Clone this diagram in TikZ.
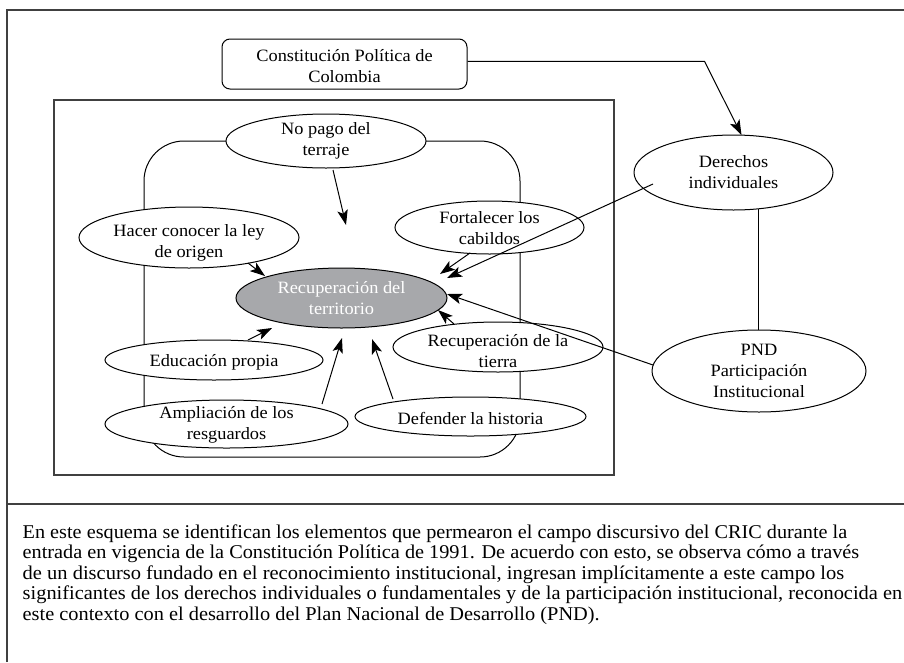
\documentclass[tikz,border=0pt]{standalone}
\usepackage{fontspec}
\setmainfont{Liberation Serif}[FakeStretch=1.06]
\usetikzlibrary{shapes.geometric,arrows.meta,calc}
\pgfdeclarelayer{bg}
\pgfsetlayers{bg,main}
\definecolor{recgray}{HTML}{A7A8AB}
\newcommand\capfont{\fontsize{19.5}{20}\selectfont}
\newcommand\captA{En este esquema se identifican los elementos que permearon el campo discursivo del CRIC durante la}
\newcommand\captB{entrada en vigencia de la Constitución Política de 1991. De acuerdo con esto, se observa cómo a través}
\newcommand\captC{de un discurso fundado en el reconocimiento institucional, ingresan implícitamente a este campo los}
\newcommand\captD{significantes de los derechos individuales o fundamentales y de la participación institucional, reconocida en}
\newcommand\captE{este contexto con el desarrollo del Plan Nacional de Desarrollo (PND).}
\newlength\lwa \newlength\lwb \newlength\lwc \newlength\lwd
\begin{document}
\settowidth\lwa{\capfont\captA}
\settowidth\lwb{\capfont\captB}
\settowidth\lwc{\capfont\captC}
\settowidth\lwd{\capfont\captD}
\pgfmathsetmacro\fa{824.5/\lwa}
\pgfmathsetmacro\fb{836.5/\lwb}
\pgfmathsetmacro\fc{821.5/\lwc}
\pgfmathsetmacro\fd{879.5/\lwd}
\pgfmathsetmacro\fe{(\fa+\fb+\fc+\fd)/4}
\begin{tikzpicture}[x=1pt,y=-1pt,
  ell/.style={ellipse,draw,fill=white,line width=1pt,inner sep=0pt},
  gell/.style={ellipse,draw,fill=recgray,line width=1pt,inner sep=0pt},
  lab/.style={align=center,font=\fontsize{17.3}{21}\selectfont,inner sep=0pt},
  arr/.style={line width=1pt,-{Stealth[length=15pt,width=10.5pt,inset=3.5pt]}},
  plain/.style={line width=1pt},
  frm/.style={draw=black!75,line width=1.3pt},
  captxt/.style={anchor=base west,inner sep=0pt}]
\useasboundingbox (0,0) rectangle (904,662);

% outer frame
\draw[frm] (7,662) -- (7,10) -- (904,10);
\draw[frm] (7,504) -- (904,504);
% inner rectangle
\draw[frm] (54,100) rectangle (614,475);

% nodes
\node[draw,rounded corners=8pt,line width=1pt,minimum width=245pt,minimum height=50pt,inner sep=0pt,
  label={[lab,yshift=-2pt]center:{Constitución Política de\\Colombia}}] (cons) at (344.5,64) {};
\node[ell,minimum width=200pt,minimum height=54pt,label={[lab]center:{No pago del\\terraje}}] (nopago) at (326,141) {};
\node[ell,minimum width=220pt,minimum height=61pt,label={[lab,yshift=-5pt]center:{Hacer conocer la ley\\de origen}}] (hacer) at (189,237.5) {};
\node[ell,minimum width=189pt,minimum height=53pt,label={[lab,yshift=-1pt]center:{Fortalecer los\\cabildos}}] (fort) at (489.5,227.5) {};
\node[gell,minimum width=211pt,minimum height=60pt,label={[lab,text=white]center:{Recuperación del\\territorio}}] (rec) at (341.5,298) {};
\node[ell,minimum width=218pt,minimum height=40pt,label={[lab,yshift=-2pt]center:{Educación propia}}] (edu) at (214,360) {};
\node[ell,minimum width=210pt,minimum height=50pt,label={[lab,yshift=-4.5pt]center:{Recuperación de la\\tierra}}] (tierra) at (498,347) {};
\node[ell,minimum width=243pt,minimum height=48pt,label={[lab,yshift=-1pt]center:{Ampliación de los\\resguardos}}] (ampl) at (226.5,424) {};
\node[ell,minimum width=231pt,minimum height=39pt,label={[lab,yshift=-1.5pt]center:{Defender la historia}}] (def) at (470.5,416.5) {};
\node[ell,minimum width=199pt,minimum height=75pt,label={[lab]center:{Derechos\\individuales}}] (der) at (733.5,172.5) {};
\node[ell,minimum width=214pt,minimum height=82pt,label={[lab]center:{PND\\Participación\\Institucional}}] (pnd) at (759,371) {};

% free arrow ends
\coordinate (c1) at (346,225);
\coordinate (c8) at (342,338);
\coordinate (c9) at (372,339);

% background lines
\begin{pgfonlayer}{bg}
\draw[plain,rounded corners=40pt] (144,141) rectangle (520,457);
\draw[plain] ($(pnd.center)+(-1,0)$) -- ($(der.center)+(24.5,0)$);
\end{pgfonlayer}

% connectors
\draw[arr] ($(cons.east)+(0,-2.7)$) -- ++(237,0) -- ($(der.center)+(8,-37.5)$);
\draw[arr] ($(nopago.center)+(7,29)$) -- (c1);
\draw[arr] ($(hacer.center)+(59,25.5)$) -- ($(rec.center)+(-76.5,-22)$);
\draw[arr] ($(fort.center)+(-19.5,25.5)$) -- ($(rec.center)+(98.5,-24)$);
\draw[arr] ($(der.center)+(-80.5,11.5)$) -- ($(rec.center)+(105.5,-20)$);
\draw[arr] ($(pnd.center)+(-106,-6)$) -- ($(rec.center)+(105.5,-4)$);
\draw[arr] ($(tierra.center)+(-44,-23)$) -- ($(rec.center)+(96.5,12)$);
\draw[arr] ($(edu.center)+(34,-20)$) -- ($(rec.center)+(-69.5,30)$);
\draw[arr] ($(ampl.center)+(95.5,-20)$) -- (c8);
\draw[arr] ($(def.center)+(-77.5,-17.5)$) -- (c9);

% caption
\node[captxt] (cap1) at (22.5,538) {\scalebox{\fa}[1]{\capfont\captA}};
\node[captxt] (cap2) at (22.5,558.5) {\scalebox{\fb}[1]{\capfont\captB}};
\node[captxt] (cap3) at (22.5,579) {\scalebox{\fc}[1]{\capfont\captC}};
\node[captxt] (cap4) at (22.5,599.5) {\scalebox{\fd}[1]{\capfont\captD}};
\node[captxt] (cap5) at (22.5,620) {\scalebox{\fe}[1]{\capfont\captE}};
\end{tikzpicture}
\end{document}
